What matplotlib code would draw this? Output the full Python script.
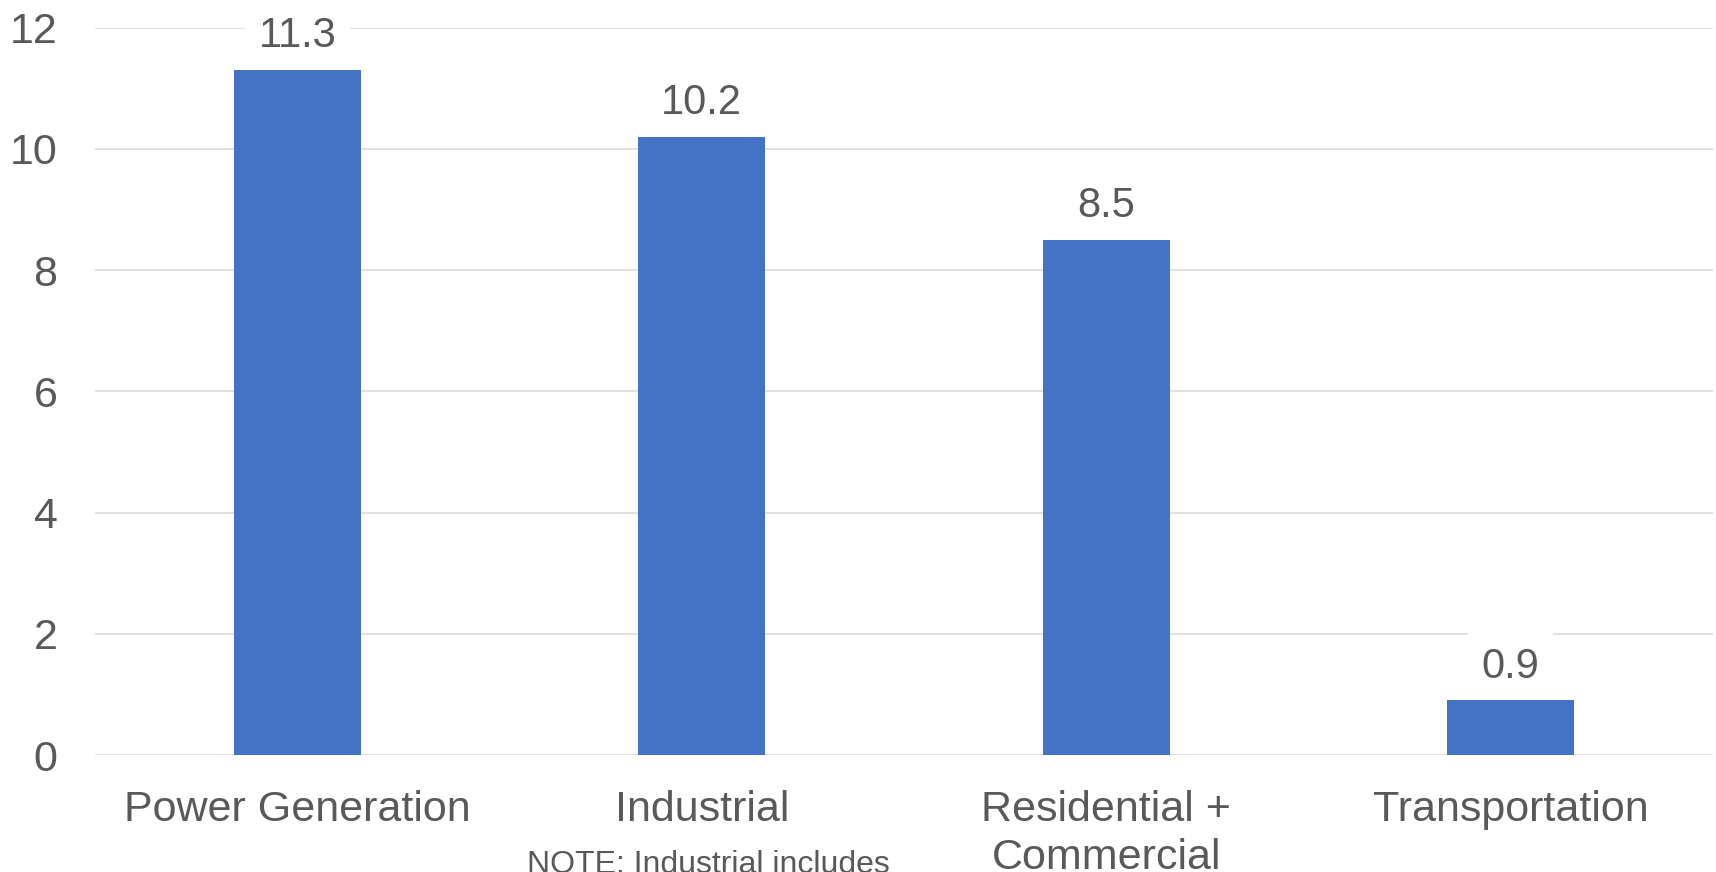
import matplotlib.pyplot as plt

plt.rcParams['font.family'] = ['Liberation Sans', 'DejaVu Sans']

############### Data ###############
sectors = ['Power Generation', 'Industrial', 'Residential +\nCommercial', 'Transportation']
values = [11.3, 10.2, 8.5, 0.9]
value_labels = ['11.3', '10.2', '8.5', '0.9']
y_ticks = [0, 2, 4, 6, 8, 10, 12]
note = 'NOTE: Industrial includes'

############### Style ###############
bar_color = '#4472C4'
text_color = '#595959'
grid_color = '#D9D9D9'
W, H = 1716, 872

fig = plt.figure(figsize=(W / 100, H / 100), dpi=100)
ax = fig.add_axes([95 / W, 117 / H, (1713 - 95) / W, (755 - 27.7) / H])

x = range(len(sectors))
bars = ax.bar(x, values, width=0.314, color=bar_color, zorder=2)

ax.set_xlim(-0.5, len(sectors) - 0.5)
ax.set_ylim(0, 12)
ax.set_yticks(y_ticks)
ax.set_xticks(list(x))
ax.set_xticklabels(sectors, linespacing=1.25)

for s in ax.spines.values():
    s.set_visible(False)
ax.grid(axis='y', color=grid_color, linewidth=1.1, zorder=0)
ax.tick_params(axis='both', length=0, labelsize=31, labelcolor=text_color)
ax.tick_params(axis='y', pad=27)
ax.tick_params(axis='x', pad=25.5)

# value labels above each bar, white box breaks the gridline behind them
for rect, lab in zip(bars, value_labels):
    ax.annotate(lab, (rect.get_x() + rect.get_width() / 2, rect.get_height()),
                xytext=(0, 16.5), textcoords='offset points',
                ha='center', va='baseline', fontsize=30, color=text_color,
                bbox=dict(boxstyle='square,pad=0.33', fc='white', ec='none'),
                zorder=3)

fig.text(708 / W, 0.025, note, ha='center', va='top', fontsize=23, color=text_color)

fig.savefig('out.png', dpi=100)
